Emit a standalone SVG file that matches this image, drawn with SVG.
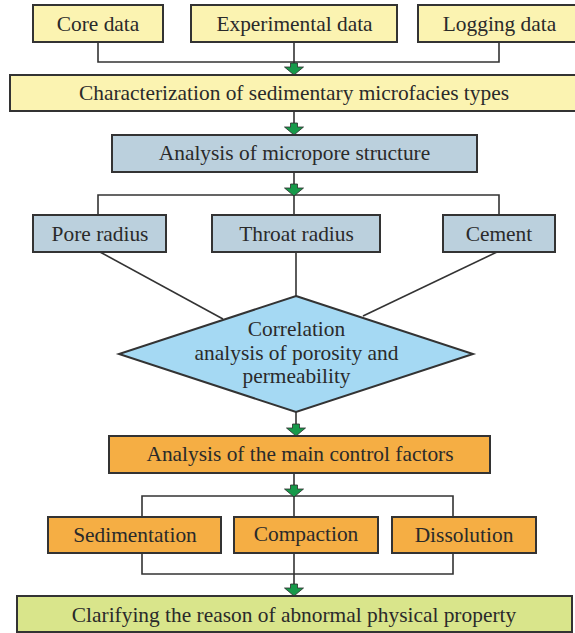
<svg xmlns="http://www.w3.org/2000/svg" width="575" height="633" viewBox="0 0 575 633">
<style>
.box{stroke:#333;stroke-width:2}
.y{fill:#FBF3B1}
.b{fill:#BBD0DD}
.o{fill:#F5AE44}
.g{fill:#D9E58B}
.d{fill:#A5D9F3}
.c{fill:none;stroke:#333;stroke-width:1.6}
.ar{fill:#17994A;stroke:#2b2b2b;stroke-width:0.8}
text{font-family:"Liberation Serif","Times New Roman",serif;font-size:21.4px;fill:#2a2a2a;text-anchor:middle}
</style>
<defs>
<polygon id="arr" class="ar" points="-3.5,-12 3.5,-12 3.5,-8 9.5,-8 0,0 -9.5,-8 -3.5,-8"/>
</defs>
<rect width="575" height="633" fill="#fff"/>
<g id="connectors">
<polyline class="c" points="98,42 98,62 499,62 499,42"/>
<line class="c" x1="294" y1="42" x2="294" y2="64"/>
<line class="c" x1="294" y1="111" x2="294" y2="124"/>
<line class="c" x1="294" y1="172" x2="294" y2="184"/>
<polyline class="c" points="98,215 98,195 499,195 499,215"/>
<line class="c" x1="294" y1="195" x2="294" y2="215"/>
<line class="c" x1="100" y1="252" x2="223" y2="319"/>
<line class="c" x1="296" y1="252" x2="296" y2="296"/>
<line class="c" x1="497" y1="252" x2="363" y2="316"/>
<line class="c" x1="296" y1="412" x2="296" y2="425"/>
<line class="c" x1="294" y1="473" x2="294" y2="485"/>
<polyline class="c" points="142,517 142,496 453,496 453,517"/>
<line class="c" x1="294" y1="496" x2="294" y2="517"/>
<polyline class="c" points="142,553 142,574 453,574 453,553"/>
<line class="c" x1="294" y1="553" x2="294" y2="585"/>
<use href="#arr" x="294" y="75"/>
<use href="#arr" x="294" y="135"/>
<use href="#arr" x="294" y="196"/>
<use href="#arr" x="296" y="436"/>
<use href="#arr" x="294" y="497"/>
<use href="#arr" x="294" y="596"/>
</g>
<g id="core"><rect class="box y" x="33" y="5" width="130" height="37"/><text x="98" y="31">Core data</text></g>
<g id="experimental"><rect class="box y" x="191" y="5" width="206" height="37"/><text x="294.5" y="31">Experimental data</text></g>
<g id="logging"><rect class="box y" x="418" y="5" width="170" height="37"/><text x="499.5" y="31">Logging data</text></g>
<g id="characterization"><rect class="box y" x="10" y="75" width="580" height="36"/><text x="294" y="99.5">Characterization of sedimentary microfacies types</text></g>
<g id="micropore"><rect class="box b" x="112" y="135" width="365" height="37"/><text x="294.5" y="159.5">Analysis of micropore structure</text></g>
<g id="pore"><rect class="box b" x="33" y="215" width="133" height="37"/><text x="100" y="240.5">Pore radius</text></g>
<g id="throat"><rect class="box b" x="212" y="215" width="168" height="37"/><text x="296.5" y="240.5">Throat radius</text></g>
<g id="cement"><rect class="box b" x="443" y="215" width="112" height="37"/><text x="499" y="240.5">Cement</text></g>
<g id="correlation"><polygon class="box d" points="296,296 473,354 296,412 119,354"/>
<text x="296.5" y="336">Correlation</text>
<text x="296.5" y="359.5">analysis of porosity and</text>
<text x="296.5" y="382.5">permeability</text></g>
<g id="factors"><rect class="box o" x="109" y="436" width="381" height="37"/><text x="300" y="460.5">Analysis of the main control factors</text></g>
<g id="sedimentation"><rect class="box o" x="48" y="517" width="173" height="36"/><text x="135" y="542">Sedimentation</text></g>
<g id="compaction"><rect class="box o" x="234" y="517" width="144" height="36"/><text x="306" y="540.5">Compaction</text></g>
<g id="dissolution"><rect class="box o" x="392" y="517" width="144" height="36"/><text x="464" y="542">Dissolution</text></g>
<g id="clarifying"><rect class="box g" x="17" y="596" width="555" height="36"/><text x="294" y="621.5">Clarifying the reason of abnormal physical property</text></g>
</svg>
